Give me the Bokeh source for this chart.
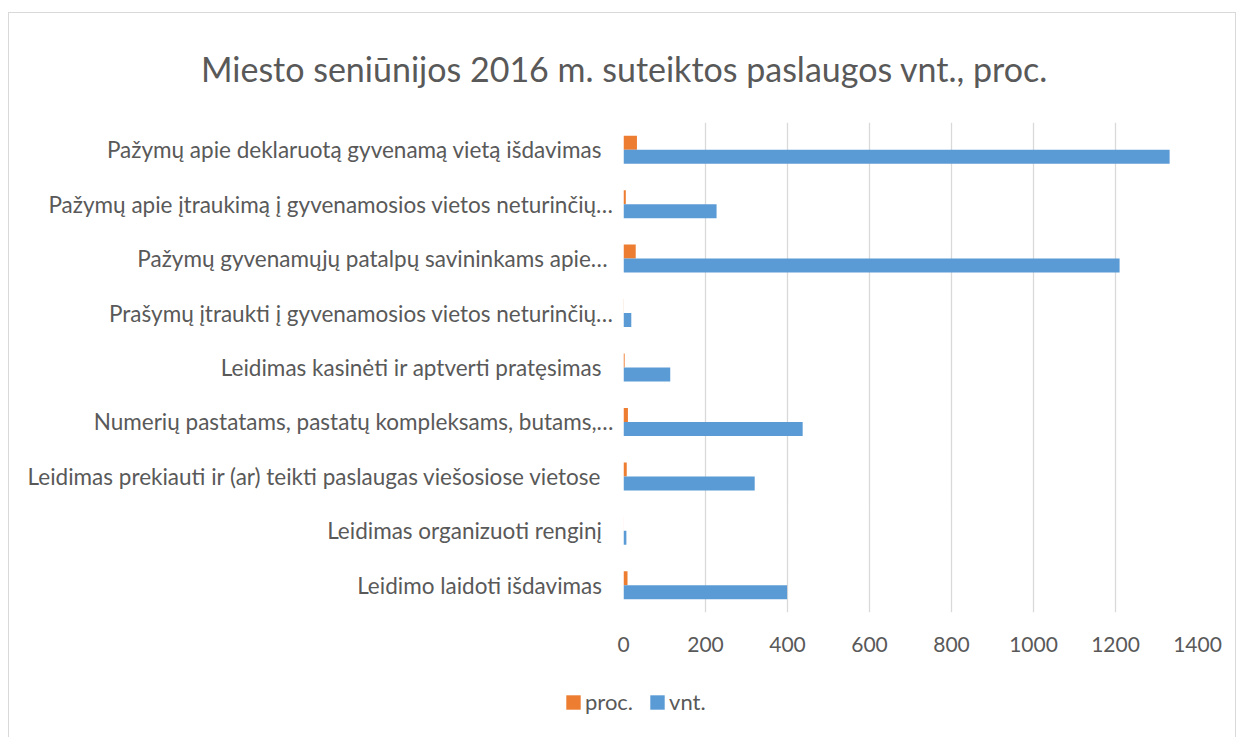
from bokeh.plotting import figure
from bokeh.layouts import column
from bokeh.models import (ColumnDataSource, FactorRange, Range1d, Legend, LegendItem, Label)
from bokeh.transform import dodge
from bokeh.embed import file_html
from bokeh.resources import INLINE

# ---- data (top to bottom as shown) ----
categories = [
    "Pažymų apie deklaruotą gyvenamą vietą išdavimas  ",
    "Pažymų apie įtraukimą į gyvenamosios vietos neturinčių…",
    "Pažymų gyvenamųjų  patalpų savininkams apie…",
    "Prašymų įtraukti į gyvenamosios vietos neturinčių…",
    "Leidimas kasinėti ir aptverti pratęsimas  ",
    "Numerių pastatams, pastatų kompleksams, butams,…",
    "Leidimas prekiauti ir (ar) teikti paslaugas viešosiose vietose  ",
    "Leidimas organizuoti renginį  ",
    "Leidimo laidoti išdavimas  ",
]
vnt = [1332, 227, 1210, 19, 114, 437, 320, 7, 399]
proc = [32.8, 5.6, 29.8, 0.5, 2.8, 10.8, 7.9, 0.2, 9.8]
x_ticks = [0, 200, 400, 600, 800, 1000, 1200, 1400]
series_names = ["proc.", "vnt."]
title_text = "Miesto seniūnijos 2016 m. suteiktos paslaugos vnt., proc."

FONT = "Lato"
GREY = "#595959"
ORANGE = "#ED7D31"
BLUE = "#5B9BD5"

W = 1226
H_TITLE, H_MAIN, H_LEG = 109, 556, 66


def strip(height):
    f = figure(width=W, height=height, output_backend="svg", toolbar_location=None,
               x_range=Range1d(0, 1), y_range=Range1d(0, 1),
               x_axis_location=None, y_axis_location=None, title=None,
               min_border_left=0, min_border_right=0, min_border_top=0, min_border_bottom=0)
    f.outline_line_color = None
    f.grid.visible = False
    return f


# ---- title strip ----
tf = strip(H_TITLE)
tf.add_layout(Label(x=615, y=H_TITLE - 55, x_units="screen", y_units="screen", text=title_text,
                    text_align="center", text_baseline="middle", text_font=FONT,
                    text_font_size="34px", text_color=GREY))

# ---- main chart ----
src = ColumnDataSource(dict(cat=categories, vnt=vnt, proc=proc))
p = figure(width=W, height=H_MAIN, output_backend="svg", toolbar_location=None, title=None,
           y_range=FactorRange(factors=list(reversed(categories))),
           x_range=Range1d(0, 1400),
           min_border_left=614, min_border_right=38, min_border_top=0,
           min_border_bottom=H_MAIN - 490)

bh = 0.257
p.hbar(y=dodge("cat", bh / 2, range=p.y_range), right="proc", left=0, height=bh,
       source=src, fill_color=ORANGE, line_color=None)
p.hbar(y=dodge("cat", -bh / 2, range=p.y_range), right="vnt", left=0, height=bh,
       source=src, fill_color=BLUE, line_color=None)

p.outline_line_color = None
p.ygrid.grid_line_color = None
p.xgrid.grid_line_color = "#d9d9d9"
p.xgrid.grid_line_width = 1.3

p.xaxis.ticker = x_ticks
p.xaxis.axis_line_color = None
p.xaxis.major_tick_line_color = None
p.xaxis.minor_tick_line_color = None
p.xaxis.major_label_text_font = FONT
p.xaxis.major_label_text_font_size = "21px"
p.xaxis.major_label_text_color = GREY
p.xaxis.major_label_standoff = 18

p.yaxis.axis_line_color = None
p.yaxis.major_tick_line_color = None
p.yaxis.minor_tick_line_color = None
p.yaxis.major_label_text_font = FONT
p.yaxis.major_label_text_font_size = "22.5px"
p.yaxis.major_label_text_color = GREY
p.yaxis.major_label_standoff = 4

# ---- legend strip ----
lf = strip(H_LEG)
swatch = ColumnDataSource(dict(y=[-1], right=[0]))  # legend swatches only, outside the visible range
g1 = lf.hbar(y="y", right="right", left=0, height=0.5, source=swatch, fill_color=ORANGE, line_color=None)
g2 = lf.hbar(y="y", right="right", left=0, height=0.5, source=swatch, fill_color=BLUE, line_color=None)
legend = Legend(items=[LegendItem(label=series_names[0], renderers=[g1]),
                       LegendItem(label=series_names[1], renderers=[g2])],
                orientation="horizontal", location=(555, 29),
                glyph_width=18, glyph_height=18, label_standoff=3, spacing=15,
                padding=0, margin=0, border_line_color=None, background_fill_alpha=0,
                label_text_font=FONT, label_text_font_size="22px", label_text_color=GREY)
lf.add_layout(legend)

root = column(column(tf, spacing=0), p, column(lf, spacing=0), spacing=0,
              styles={"margin-left": "8px", "margin-top": "12px", "border": "1px solid #d9d9d9"})

open("out.html", "w").write(file_html(root, INLINE))
